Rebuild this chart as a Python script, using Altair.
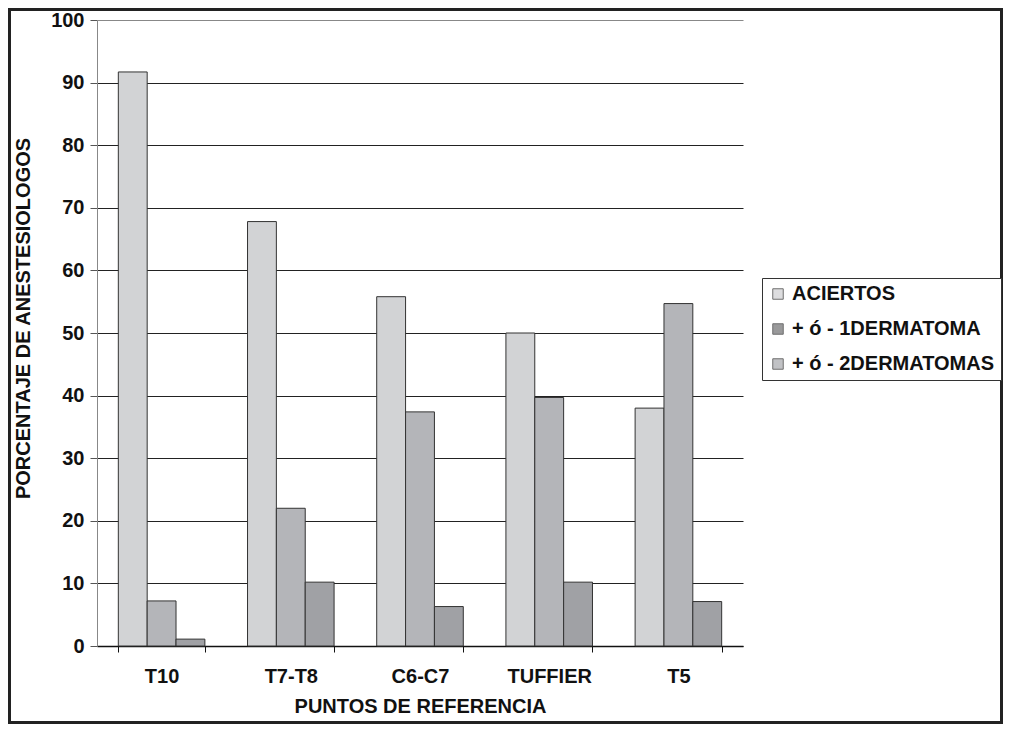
import altair as alt
import pandas as pd

categories = ["T10", "T7-T8", "C6-C7", "TUFFIER", "T5"]
series = ["ACIERTOS", "+ ó - 1DERMATOMA", "+ ó - 2DERMATOMAS"]
aciertos = [91.7, 67.8, 55.8, 50.0, 38.0]
un_dermatoma = [7.2, 22.0, 37.4, 39.7, 54.7]
dos_dermatomas = [1.1, 10.2, 6.3, 10.2, 7.1]
y_ticks = [0, 10, 20, 30, 40, 50, 60, 70, 80, 90, 100]
bar_colors = ["#d2d3d5", "#b4b5b9", "#a0a1a5"]
legend_colors = ["#d0d0d2", "#6e6e70", "#a8a9ad"]

rows = []
for i, c in enumerate(categories):
    for s, vals in zip(series, [aciertos, un_dermatoma, dos_dermatomas]):
        rows.append({"punto": c, "serie": s, "valor": vals[i]})
df = pd.DataFrame(rows)

FONT = "Liberation Sans"
FS = 20

x_enc = alt.X(
    "punto:N",
    sort=categories,
    scale=alt.Scale(paddingInner=0.33, paddingOuter=0.165),
    axis=alt.Axis(
        title="PUNTOS DE REFERENCIA",
        labelAngle=0,
        tickBand="extent",
        domainColor="#111",
        domainWidth=1.5,
        tickColor="#111",
        tickSize=6,
        labelPadding=14,
        titlePadding=10,
    ),
)
y_enc = alt.Y(
    "valor:Q",
    scale=alt.Scale(domain=[0, 100], nice=False),
    axis=alt.Axis(
        title="PORCENTAJE DE ANESTESIOLOGOS",
        values=y_ticks,
        grid=True,
        gridColor={"condition": {"test": "datum.value === 100", "value": "#888"}, "value": "#222"},
        domainColor="#888",
        tickColor="#555",
        tickSize=7,
        labelPadding=6,
        titlePadding=17,
        titleY=298,
    ),
)

bars = alt.Chart(df).mark_bar(stroke="#333", strokeWidth=1).encode(
    x=x_enc,
    xOffset=alt.XOffset("serie:N", sort=series, scale=alt.Scale(paddingInner=0, paddingOuter=0)),
    y=y_enc,
    color=alt.Color("serie:N", sort=series, scale=alt.Scale(domain=series, range=bar_colors), legend=None),
)

legend_layer = alt.Chart(df).transform_filter("datum.valor < 0").mark_square(
    filled=True, stroke="#333", strokeWidth=1
).encode(
    x=alt.X("punto:N", sort=categories),
    y=alt.Y("valor:Q"),
    color=alt.Color(
        "serie:N",
        scale=alt.Scale(domain=series, range=legend_colors),
        legend=alt.Legend(
            title=None,
            orient="none",
            legendX=665,
            legendY=258,
            direction="vertical",
            fillColor="white",
            strokeColor="#333",
            padding=6,
            rowPadding=15,
            symbolType="square",
            symbolSize=110,
            symbolStrokeColor="#333",
            symbolStrokeWidth=1,
            labelFont=FONT,
            labelFontSize=FS,
            labelFontWeight="bold",
            labelColor="#111",
            labelLimit=400,
            labelOffset=4,
        ),
    ),
)

frame = alt.Chart(pd.DataFrame({"a": [0]})).mark_rect(
    fill=None, stroke="#222", strokeWidth=3
).encode(
    x=alt.value(-87.5), x2=alt.value(904.5), y=alt.value(-10.5), y2=alt.value(702.5)
)

chart = alt.layer(bars, legend_layer, frame).resolve_scale(color="independent").properties(
    width=646,
    height=626,
    autosize=alt.AutoSizeParams(type="none"),
    padding={"left": 89, "top": 12, "right": 260, "bottom": 78},
    background="white",
).configure_view(stroke=None).configure_axis(
    labelFont=FONT,
    labelFontSize=FS,
    labelFontWeight="bold",
    labelColor="#111",
    titleFont=FONT,
    titleFontSize=FS,
    titleFontWeight="bold",
    titleColor="#111",
)

chart.save("out.html", embed_options={"renderer": "svg", "actions": False})
